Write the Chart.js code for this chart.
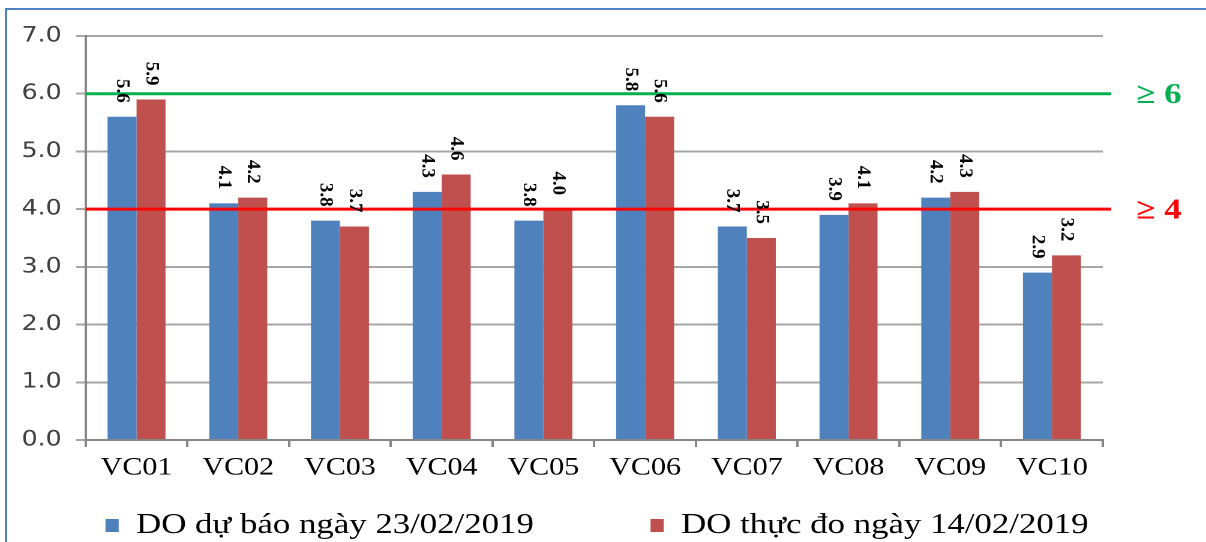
<!DOCTYPE html>
<html>
<head>
<meta charset="utf-8">
<script src="https://cdn.jsdelivr.net/npm/chart.js@4"></script>
<style>
  html, body { margin: 0; padding: 0; background: #fff; }
  #wrap { position: relative; width: 1206px; height: 542px; overflow: hidden; }
  #frame {
    position: absolute; left: 5px; top: 8px; width: 1210px; height: 600px;
    border-left: 2px solid #4f81bd; border-top: 2px solid #4f81bd;
  }
  /* the source picture is stretched sideways, so draw narrow and stretch */
  #stretch { position: absolute; left: 0; top: 0; width: 1005px; height: 542px;
    transform: scaleX(1.2); transform-origin: 0 0; }
</style>
</head>
<body>
<div id="wrap">
  <div id="frame"></div>
  <div id="stretch"><canvas id="doChart" width="1005" height="542"></canvas></div>
</div>
<script>
const STRETCH = 1.2;

const stations = ["VC01", "VC02", "VC03", "VC04", "VC05", "VC06", "VC07", "VC08", "VC09", "VC10"];
const forecastDO = [5.6, 4.1, 3.8, 4.3, 3.8, 5.8, 3.7, 3.9, 4.2, 2.9];
const measuredDO = [5.9, 4.2, 3.7, 4.6, 4.0, 5.6, 3.5, 4.1, 4.3, 3.2];
const yTicks = [0, 1, 2, 3, 4, 5, 6, 7];
const thresholds = [
  { value: 6, label: "\u2265 6", color: "#00b050" },
  { value: 4, label: "\u2265 4", color: "#ff0000" }
];

// rotated value labels above each bar
const barLabels = {
  id: "barLabels",
  afterDatasetsDraw(chart) {
    const ctx = chart.ctx;
    ctx.save();
    ctx.font = "bold 19px 'Liberation Serif', serif";
    ctx.fillStyle = "#000";
    ctx.textBaseline = "middle";
    ctx.textAlign = "right";
    chart.data.datasets.forEach((ds, i) => {
      chart.getDatasetMeta(i).data.forEach((bar, j) => {
        ctx.save();
        ctx.translate(bar.x, bar.y - 14);
        ctx.scale(1 / STRETCH, 1); // undo the sideways stretch for these
        ctx.rotate(Math.PI / 2);
        ctx.fillText(ds.data[j].toFixed(1), 0, 0);
        ctx.restore();
      });
    });
    ctx.restore();
  }
};

// threshold lines + their labels on the right
const limitLines = {
  id: "limitLines",
  afterDatasetsDraw(chart) {
    const { ctx, chartArea, scales } = chart;
    ctx.save();
    thresholds.forEach(t => {
      const y = scales.y.getPixelForValue(t.value);
      ctx.strokeStyle = t.color;
      ctx.lineWidth = 3;
      ctx.beginPath();
      ctx.moveTo(chartArea.left, y);
      ctx.lineTo(chartArea.right + 7, y);
      ctx.stroke();
      ctx.fillStyle = t.color;
      ctx.font = "bold 29px 'Liberation Serif', serif";
      ctx.textBaseline = "middle";
      ctx.textAlign = "left";
      ctx.fillText(t.label, chartArea.right + 28, y + 2);
    });
    ctx.restore();
  }
};

new Chart(document.getElementById("doChart"), {
  type: "bar",
  data: {
    labels: stations,
    datasets: [
      { label: "DO dự báo ngày 23/02/2019", data: forecastDO, backgroundColor: "#4f81bd" },
      { label: "DO thực đo ngày 14/02/2019", data: measuredDO, backgroundColor: "#c0504d" }
    ]
  },
  options: {
    responsive: false,
    animation: false,
    devicePixelRatio: 2,
    layout: { padding: { left: 6, right: 16, top: 36, bottom: -8 } },
    datasets: { bar: { categoryPercentage: 0.57, barPercentage: 1.0 } },
    plugins: {
      legend: {
        position: "bottom",
        labels: {
          boxWidth: 11,
          boxHeight: 13,
          padding: 3,
          color: "#000",
          font: { family: "'Liberation Serif', serif", size: 29 },
          generateLabels(chart) {
            return chart.data.datasets.map((ds, i) => ({
              text: i === 0 ? ds.label + "             " : ds.label,
              fillStyle: ds.backgroundColor,
              strokeStyle: ds.backgroundColor,
              lineWidth: 0,
              datasetIndex: i
            }));
          }
        }
      },
      tooltip: { enabled: false }
    },
    scales: {
      x: {
        grid: { display: true, drawOnChartArea: false, offset: true, color: "#868686", lineWidth: 2, tickLength: 7 },
        border: { color: "#868686", width: 2 },
        ticks: { color: "#000", font: { family: "'Liberation Serif', serif", size: 25 }, padding: 6 },
        afterFit(axis) { axis.height = 68; }
      },
      y: {
        min: 0,
        max: 7,
        afterBuildTicks(axis) { axis.ticks = yTicks.map(v => ({ value: v })); },
        grid: { color: "#a6a6a6", lineWidth: 2, tickLength: 8 },
        border: { color: "#868686", width: 2 },
        ticks: {
          color: "#404040",
          padding: 12,
          font: { family: "'DejaVu Sans', sans-serif", size: 21 },
          callback: v => Number(v).toFixed(1)
        }
      },
      // empty right-hand axis that keeps room for the threshold labels
      yRight: {
        position: "right",
        grid: { display: false },
        border: { display: false },
        ticks: { display: false },
        afterFit(axis) { axis.width = 70; }
      }
    }
  },
  plugins: [limitLines, barLabels]
});
</script>
</body>
</html>
